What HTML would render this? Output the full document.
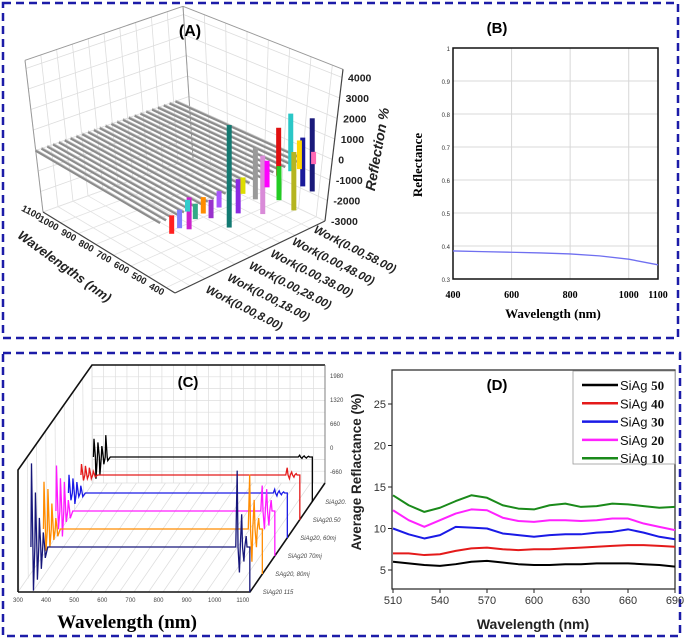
<!DOCTYPE html>
<html><head><meta charset="utf-8"><style>
html,body{margin:0;padding:0;background:#fff}
svg{display:block}
text{font-family:"Liberation Sans",sans-serif}
.serif{font-family:"Liberation Serif",serif}
</style></head><body>
<svg id="fig" width="685" height="639" viewBox="0 0 685 639" xmlns="http://www.w3.org/2000/svg">
<rect x="0" y="0" width="685" height="639" fill="#fff"/>
<rect x="3" y="3" width="675" height="335" fill="none" stroke="#1c1ca8" stroke-width="2.5" stroke-dasharray="8 5"/>
<rect x="3" y="353" width="677" height="283" fill="none" stroke="#1c1ca8" stroke-width="2.5" stroke-dasharray="8 5"/>
<g id="pA"></g>
<g id="pB"></g>
<g id="pC"></g>
<g id="pD"></g>
</svg>
<script>
// ---------- Panel B data ----------
const bWave = [400,500,600,700,800,900,1000,1100];
const bRefl = [0.385,0.383,0.381,0.379,0.376,0.370,0.360,0.343];
const bXTicks = [400,600,800,1000,1100];
const bYTicks = [0.3,0.4,0.5,0.6,0.7,0.8,0.9,1];
// ---------- Panel D data ----------
const dWave = [510,520,530,540,550,560,570,580,590,600,610,620,630,640,650,660,670,680,690];
const dSiAg50 = [6.0,5.8,5.6,5.5,5.7,6.0,6.1,5.9,5.7,5.6,5.6,5.7,5.7,5.8,5.8,5.8,5.7,5.6,5.4];
const dSiAg40 = [7.0,7.0,6.8,6.9,7.3,7.6,7.7,7.5,7.4,7.5,7.5,7.6,7.7,7.8,7.9,8.0,8.0,7.9,7.8];
const dSiAg30 = [10.0,9.3,8.8,9.2,10.2,10.1,10.0,9.4,9.2,9.0,9.2,9.3,9.3,9.5,9.6,9.9,9.5,9.0,8.7];
const dSiAg20 = [12.2,11.0,10.2,11.0,11.8,12.3,12.2,11.3,10.9,10.8,11.0,11.0,10.9,11.0,11.2,11.2,10.6,10.2,9.8];
const dSiAg10 = [14.0,12.8,12.0,12.5,13.3,14.0,13.7,12.8,12.4,12.3,12.8,13.0,12.6,12.7,13.0,12.9,12.7,12.5,12.6];
const dNames = ["50","40","30","20","10"];
const dColors = ["#000000","#e41a1a","#1a1ae6","#ff22ff","#1a8a1a"];
const dXTicks = [510,540,570,600,630,660,690];
const dYTicks = [5,10,15,20,25];
// ---------- Panel C data ----------
const cLabels = ["SiAg20 115","SAg20, 80mj","SiAg20 70mj","SiAg20, 60mj","SiAg20.50","SiAg20."];
const cColors = ["#16167a","#ff8c00","#ff1aff","#1a1ae6","#e41a1a","#000000"];
const cLevel = [-275,-275,-275,-275,-275,-275];
const cStart = [346,346,346,346,346,346];
const cEnd = [1125,1125,1125,1125,1125,1125];
const cStartSpikes = [
 [2300,-1200,1500,-900,800,-600,400,-300],
 [1300,-600,1100,-500,700,-300,300,-200],
 [1250,-500,900,-700,800,-300,300,-200],
 [500,-200,400,-300,300,-100,200,-100],
 [300,-150,250,-100,200,-100,100,-50],
 [500,-600,400,-500,300,-200,600,-100]];
const cEndSpikes = [
 [2100,-700,900,-400,300],
 [1500,-900,800,-500,300],
 [700,-500,600,-400,300],
 [100,-80,60,-50,30],
 [200,-100,80,-60,40],
 [50,-40,30,-30,20]];
const cXTicks = [300,400,500,600,700,800,900,1000,1100];
const cZTicks = [1980,1320,660,0,-660];
// ---------- Panel A data ----------
const aWTicks = [1100,1000,900,800,700,600,500,400];
const aZTicks = [4000,3000,2000,1000,0,-1000,-2000,-3000];
const aWork = ["Work(0.00,8.00)","Work(0.00,18.00)","Work(0.00,28.00)","Work(0.00,38.00)","Work(0.00,48.00)","Work(0.00,58.00)"];
const aBarDepth = [0.40,0.78,0.71,0.92,0.87,0.57,0.62,0.73,0.82,0.47,0.16,0.15,0.05,0.10,0.25,0.30,0.50,0.65,0.85,0.95,0.20,0.35];
const aBarTop = [3500,2750,2300,2040,1270,1810,1250,360,740,620,800,710,300,400,500,200,600,900,1200,300,350,450];
const aBarBottom = [-1500,-60,-40,-1530,-1110,-710,-1600,-1300,-2110,-1050,-760,140,-600,-500,-300,-700,-200,-400,-200,-300,-400,-350];
const aBarColor = ["#137a72","#2ac7c7","#e01010","#1a1a7a","#1a1a9a","#9a9a9a","#d98bd8","#22cc22","#b5b520","#8a2be2","#cc22cc","#33cccc","#ff2020","#7f7fff","#ff8c00","#9932cc","#dddd00","#ff00ff","#ffd700","#ff69b4","#33aa88","#aa55ff"];
const aRibbons = 25;

const NS="http://www.w3.org/2000/svg";
function mk(parent,tag,attrs,txt){const e=document.createElementNS(NS,tag);for(const k in attrs)e.setAttribute(k,attrs[k]);if(txt!==undefined)e.textContent=txt;parent.appendChild(e);return e;}

// ================= Panel B =================
(function(){
 const g=document.getElementById('pB');
 const x=v=>453+(v-400)*205/700, y=v=>279-(v-0.3)*330;
 bYTicks.forEach(t=>{const l=mk(g,'line',{x1:453,x2:658,y1:y(t),y2:y(t),stroke:'#d8d8d8','stroke-width':1});
  
  
  const tx=mk(g,'text',{x:450,y:y(t)+3,'font-size':6,'text-anchor':'end',fill:'#333'},String(t));
  
  });
 [600,800,1000].forEach(t=>{const l=mk(g,'line',{x1:x(t),x2:x(t),y1:48,y2:279,stroke:'#d8d8d8','stroke-width':1});
  
  });
 bXTicks.forEach(t=>{const tx=mk(g,'text',{x:x(t),y:298,'font-size':10,'font-weight':'bold','text-anchor':'middle',class:'serif'},String(t));
  
  });
 const fr=mk(g,'rect',{x:453,y:48,width:205,height:231,fill:'none',stroke:'#111','stroke-width':1.5});
 
 
 const p=mk(g,'polyline',{points:bWave.map((w,i)=>x(w)+','+y(bRefl[i])).join(' '),fill:'none',stroke:'#6f6ff0','stroke-width':1.3});
 
 
 const t1=mk(g,'text',{x:497,y:33,'font-size':15,'font-weight':'bold','text-anchor':'middle'},'(B)');
 
 
 const t2=mk(g,'text',{x:553,y:318,'font-size':13,'font-weight':'bold','text-anchor':'middle',class:'serif'},'Wavelength (nm)');
 
 
 const t3=mk(g,'text',{x:0,y:0,'font-size':13,'font-weight':'bold','text-anchor':'middle',class:'serif',transform:'translate(422,165) rotate(-90)'},'Reflectance');
 
 
})();

// ================= Panel D =================
(function(){
 const g=document.getElementById('pD');
 const x=v=>393+(v-510)*282/180, y=v=>611.5-v*8.3;
 const series=[dSiAg50,dSiAg40,dSiAg30,dSiAg20,dSiAg10];
 const fr=mk(g,'rect',{x:392,y:370,width:283,height:219,fill:'none',stroke:'#222','stroke-width':1.2});
 
 
 dYTicks.forEach(t=>{const l=mk(g,'line',{x1:392,x2:388,y1:y(t),y2:y(t),stroke:'#222'});
  
  
  const tx=mk(g,'text',{x:386,y:y(t)+4,'font-size':11,'text-anchor':'end',fill:'#333'},String(t));
  
  });
 dXTicks.forEach(t=>{const l=mk(g,'line',{x1:x(t),x2:x(t),y1:589,y2:593,stroke:'#222'});
  
  
  const tx=mk(g,'text',{x:x(t),y:604,'font-size':11,'text-anchor':'middle',fill:'#333'},String(t));
  
  });
 series.forEach((s,i)=>{const p=mk(g,'polyline',{points:dWave.map((w,j)=>x(w)+','+y(s[j])).join(' '),fill:'none',stroke:dColors[i],'stroke-width':2,'stroke-linejoin':'round'});
  
  });
 const lg=mk(g,'rect',{x:573,y:371,width:102,height:93,fill:'#fff',stroke:'#999','stroke-width':0.8});
 
 
 dNames.forEach((n,i)=>{const yy=385+i*18.3;
  const l=mk(g,'line',{x1:582,x2:618,y1:yy,y2:yy,stroke:dColors[i],'stroke-width':2.5});
  
  
  const t=mk(g,'text',{x:620,y:yy+5,'font-size':13,fill:'#111'});
  
  
  mk(t,'tspan',{},'SiAg ');
  mk(t,'tspan',{class:'serif','font-weight':'bold','font-family':'Liberation Serif, serif'},n);});
 const t1=mk(g,'text',{x:497,y:390,'font-size':15,'font-weight':'bold','text-anchor':'middle'},'(D)');
 
 
 const t2=mk(g,'text',{x:533,y:629,'font-size':14,'font-weight':'bold','text-anchor':'middle',fill:'#222'},'Wavelength (nm)');
 
 
 const t3=mk(g,'text',{x:0,y:0,'font-size':13.5,'font-weight':'bold','text-anchor':'middle',fill:'#222',transform:'translate(361,472) rotate(-90)'},'Average Reflactance (%)');
 
 
})();

// ================= Panel C =================
(function(){
 const g=document.getElementById('pC');
 const zy=z=>447-z*24/660;
 const X=(w,k)=>18+(w-300)*0.281+k*12.5;
 const Y=(z,k)=>zy(z)+(5-k)*18;
 for(let i=0;i<=20;i++){const xx=92+i*233/20;const l=mk(g,'line',{x1:xx,x2:xx,y1:365,y2:483,stroke:'#ddd','stroke-width':0.7});
  
  }
 for(let i=0;i<=10;i++){const yy=365+i*11.8;const l=mk(g,'line',{x1:92,x2:325,y1:yy,y2:yy,stroke:'#ddd','stroke-width':0.7});
  
  }
 for(let i=0;i<=8;i++){const xx=18+i*74/8, yt=470-i*105/8;const l=mk(g,'line',{x1:xx,x2:xx+1,y1:yt,y2:592-i*109/8,stroke:'#ddd','stroke-width':0.7});
  
  }
 for(let i=0;i<=16;i++){const xx=18+i*232/16;const l=mk(g,'line',{x1:xx,x2:xx+75,y1:592,y2:483,stroke:'#ddd','stroke-width':0.7});
  
  }
 const out=mk(g,'path',{d:'M18,592 L18,470 L92,365 L325,365 M18,592 L250,592 L325,483',fill:'none',stroke:'#111','stroke-width':1.6});
 
 
 const rv=mk(g,'line',{x1:325,x2:325,y1:365,y2:483,stroke:'#666','stroke-width':0.8});
 
 
 cZTicks.forEach(t=>{const tx=mk(g,'text',{x:330,y:zy(t)+3,'font-size':6,fill:'#444'},String(t));
  
  });
 cXTicks.forEach(t=>{const tx=mk(g,'text',{x:X(t,0),y:602,'font-size':6,'text-anchor':'middle',fill:'#444'},String(t));
  
  });
 for(let k=5;k>=0;k--){
  const lv=cLevel[k], s=cStart[k], e=cEnd[k];
  let pts=[];
  cStartSpikes[k].forEach((a,j)=>{const w=s+j*7;pts.push(X(w,k)+','+Y(lv,k));pts.push(X(w+2,k)+','+Y(lv+a,k));});
  pts.push(X(s+60,k)+','+Y(lv,k));
  pts.push(X(e-50,k)+','+Y(lv,k));
  cEndSpikes[k].forEach((a,j)=>{const w=e-45+j*8;pts.push(X(w,k)+','+Y(lv+a,k));pts.push(X(w+3,k)+','+Y(lv,k));});
  pts.push(X(e,k)+','+Y(lv,k));
  pts.push(X(e,k)+','+(592-k*18));
  const p=mk(g,'polyline',{points:pts.join(' '),fill:'none',stroke:cColors[k],'stroke-width':1.3});
  
  
  const tx=mk(g,'text',{x:X(1100,k)+20,y:594-k*18,'font-size':6,'font-style':'italic',fill:'#444'},cLabels[k]);
  
  
 }
 const t1=mk(g,'text',{x:188,y:387,'font-size':15,'font-weight':'bold','text-anchor':'middle'},'(C)');
 
 
 const t2=mk(g,'text',{x:127,y:628,'font-size':19,'font-weight':'bold','text-anchor':'middle',class:'serif'},'Wavelength (nm)');
 
 
})();

// ================= Panel A =================
(function(){
 const g=document.getElementById('pA');
 const ZTOP=4400;
 const P=(w,d,z)=>{const f=(1100-w)/750, h=(z+3000)/7400;
  return [43+f*132+d*150 + h*(-18*(1-f)*(1-d) + 18*f*d - 10*(1-f)*d),
          212+f*81-d*72 + 18*d*(1-f) -(z+3000)*0.0205];};
 const line=(a,b,st,sw,name)=>{const l=mk(g,'line',{x1:a[0],y1:a[1],x2:b[0],y2:b[1],stroke:st,'stroke-width':sw});
  
  };
 for(let i=0;i<=10;i++){const d=i/10;line(P(1100,d,-3000),P(1100,d,ZTOP),'#ddd',0.8,'a-leftwall-grid');}
 aZTicks.forEach(z=>{line(P(1100,0,z),P(1100,1,z),'#ddd',0.8,'a-leftwall-grid');line(P(1100,1,z),P(350,1,z),'#ddd',0.8,'a-rightwall-grid');});
 aWTicks.forEach(w=>{line(P(w,1,-3000),P(w,1,ZTOP),'#ddd',0.8,'a-rightwall-grid');line(P(w,0,-3000),P(w,1,-3000),'#e2e2e2',0.8,'a-floor-grid');});
 for(let i=0;i<=10;i++){const d=i/10;line(P(1100,d,-3000),P(350,d,-3000),'#e2e2e2',0.8,'a-floor-grid');}
 line(P(1100,0,-3000),P(1100,0,ZTOP),'#999',1,'a-box-edge');
 line(P(1100,0,ZTOP),P(1100,1,ZTOP),'#999',1,'a-box-edge');
 line(P(1100,1,ZTOP),P(350,1,ZTOP),'#999',1,'a-box-edge');
 line(P(1100,1,-3000),P(1100,1,ZTOP),'#999',1,'a-box-edge');
 line(P(350,1,-3000),P(350,1,ZTOP),'#444',1.2,'a-z-axis');
 line(P(1100,0,-3000),P(350,0,-3000),'#444',1.2,'a-wavelength-axis');
 line(P(350,0,-3000),P(350,1,-3000),'#444',1.2,'a-depth-axis');
 for(let i=aRibbons-1;i>=0;i--){const d=i*0.038;
  const a=P(1100,d,0),b=P(430,d,0);
  line(a,b,'#8c8c8c',2.6,'a-ribbon');
  line([a[0],a[1]-1.3],[b[0],b[1]-1.3],'#c4c4c4',0.8,'a-ribbon-highlight');}
 aBarDepth.forEach((d,i)=>{const t=P(410,d,aBarTop[i]),b=P(410,d,aBarBottom[i]);
  const r=mk(g,'rect',{x:t[0]-2.5,y:t[1],width:5,height:Math.max(1,b[1]-t[1]),fill:aBarColor[i]});
  
  });
 aZTicks.forEach(z=>{const p=P(350,1,z);const tx=mk(g,'text',{x:p[0]+6,y:p[1]+4,'font-size':10.5,'font-weight':'bold',fill:'#222'},String(z));
  
  });
 aWTicks.forEach(w=>{const p=P(w,0,-3000);const tx=mk(g,'text',{x:0,y:0,'font-size':9.5,'font-weight':'bold',fill:'#222','text-anchor':'end',transform:`translate(${p[0]-4},${p[1]+8}) rotate(28)`},String(w));
  
  });
 aWork.forEach((s,i)=>{const tx=mk(g,'text',{x:0,y:0,'font-size':11.5,'font-weight':'bold','font-style':'italic',fill:'#222',transform:`translate(${205+i*21.6},${292-i*12}) rotate(27)`},s);
  
  });
 const t1=mk(g,'text',{x:190,y:36,'font-size':16,'font-weight':'bold','text-anchor':'middle'},'(A)');
 
 
 const t2=mk(g,'text',{x:0,y:0,'font-size':13,'font-weight':'bold','font-style':'italic','text-anchor':'middle',fill:'#222',transform:'translate(62,270) rotate(36)'},'Wavelengths (nm)');
 
 
 const t3=mk(g,'text',{x:0,y:0,'font-size':14,'font-weight':'bold','font-style':'italic','text-anchor':'middle',fill:'#222',transform:'translate(382,150) rotate(-80)'},'Reflection %');
 
 
})();
</script>
</body></html>
